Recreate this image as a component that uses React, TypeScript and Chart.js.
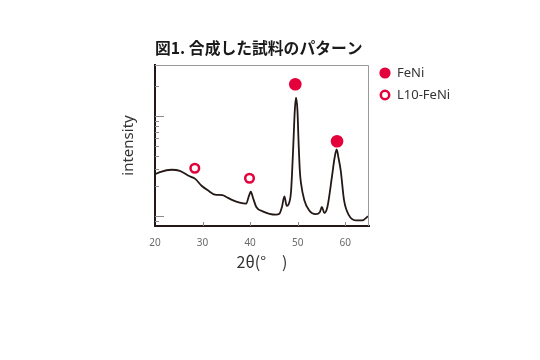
import React, { useEffect, useRef } from "react";
import { Chart, registerables } from "chart.js";

Chart.register(...registerables);

// XRD pattern (2θ in degrees, intensity on log scale)
const thetaValues = [
  20.0, 21.05, 23.5, 25.2, 27.3, 28.4, 29.8, 31.1, 32.6, 34.2, 35.0, 36.3, 37.8, 39.2,
  39.65, 40.15, 40.55, 41.3, 42.65, 44.05, 45.45, 46.15, 46.7, 47.2, 47.7, 48.1, 48.6,
  48.85, 49.1, 49.4, 49.65, 49.95, 50.2, 50.45, 50.7, 51.4, 52.4, 53.8, 54.65, 55.1,
  55.6, 56.25, 57.2, 57.75, 58.2, 58.6, 59.05, 59.75, 60.8, 62.2, 63.6, 64.8,
];
const intensityValues = [
  2.63, 2.77, 2.92, 2.85, 2.51, 2.38, 2.02, 1.82, 1.65, 1.63, 1.56, 1.45, 1.37, 1.34,
  1.54, 1.76, 1.56, 1.24, 1.12, 1.06, 1.04, 1.06, 1.24, 1.58, 1.27, 1.32, 1.75,
  2.88, 5.37, 11.5, 15.3, 11.5, 5.37, 2.88, 2.14, 1.45, 1.15, 1.05, 1.10, 1.24,
  1.08, 1.24, 2.47, 3.8, 4.65, 3.8, 2.88, 1.45, 1.02, 0.91, 0.91, 1.0,
];

const feNiTheta = [49.5, 58.28];
const feNiIntensity = [20.9, 5.62];
const l10Theta = [28.37, 39.87];
const l10Intensity = [3.02, 2.4];

const xTickValues = [20, 30, 40, 50, 60];
const yTickValues = [0.9, 1, 2, 3, 4, 5, 6, 7, 8, 9, 10, 20];
const yLongTicks = [1, 10];

const titleText = "図1. 合成した試料のパターン";
const xTitle = "2θ(°\u3000)";
const yTitle = "intensity";
const legendLabels = ["FeNi", "L10-FeNi"];

const RED = "#e4003a";
const INK = "#231815";

const decorPlugin = {
  id: "decor",
  afterDatasetsDraw(chart: any) {
    const { ctx, chartArea } = chart;
    const xs = chart.scales.x;
    const ys = chart.scales.y;
    ctx.save();
    // top & right frame
    ctx.strokeStyle = "#9a9a9a";
    ctx.lineWidth = 1;
    ctx.beginPath();
    ctx.moveTo(chartArea.left, chartArea.top + 0.5);
    ctx.lineTo(chartArea.right - 0.5, chartArea.top + 0.5);
    ctx.lineTo(chartArea.right - 0.5, chartArea.bottom);
    ctx.stroke();
    // inward ticks
    ctx.strokeStyle = "#8a8a8a";
    ctx.beginPath();
    yTickValues.forEach((v) => {
      const y = Math.round(ys.getPixelForValue(v)) + 0.5;
      const len = yLongTicks.includes(v) ? 9 : 4;
      ctx.moveTo(chartArea.left, y);
      ctx.lineTo(chartArea.left + len, y);
    });
    xTickValues.forEach((v) => {
      if (v === xs.min) return;
      const x = Math.round(xs.getPixelForValue(v)) + 0.5;
      ctx.moveTo(x, chartArea.bottom);
      ctx.lineTo(x, chartArea.bottom - 4);
    });
    ctx.stroke();
    ctx.restore();
  },
  afterDraw(chart: any) {
    const { ctx, chartArea } = chart;
    ctx.save();
    // title
    ctx.fillStyle = "#1a1a1a";
    ctx.font = "bold 15.8px 'Noto Sans CJK JP'";
    ctx.textAlign = "left";
    ctx.textBaseline = "middle";
    ctx.fillText(titleText, chartArea.left, 48);
    // legend
    const lx = 385;
    const rows = [73, 95];
    ctx.fillStyle = RED;
    ctx.beginPath();
    ctx.arc(lx, rows[0], 5.6, 0, Math.PI * 2);
    ctx.fill();
    ctx.strokeStyle = RED;
    ctx.lineWidth = 2.5;
    ctx.fillStyle = "#fff";
    ctx.beginPath();
    ctx.arc(lx, rows[1], 4.2, 0, Math.PI * 2);
    ctx.fill();
    ctx.stroke();
    ctx.fillStyle = "#333";
    ctx.font = "13px 'Noto Sans'";
    ctx.textBaseline = "middle";
    legendLabels.forEach((t, i) => ctx.fillText(t, 397, rows[i] + 0.5));
    ctx.restore();
  },
};

export default function App() {
  const ref = useRef<HTMLCanvasElement>(null);
  useEffect(() => {
    if (!ref.current) return;
    const lineData = thetaValues.map((x, i) => ({ x, y: intensityValues[i] }));
    const feNiData = feNiTheta.map((x, i) => ({ x, y: feNiIntensity[i] }));
    const l10Data = l10Theta.map((x, i) => ({ x, y: l10Intensity[i] }));
    const chart = new Chart(ref.current, {
      type: "line",
      data: {
        datasets: [
          {
            type: "scatter",
            label: legendLabels[0],
            data: feNiData,
            pointRadius: 6.3,
            pointBackgroundColor: RED,
            pointBorderWidth: 0,
            order: 0,
          } as any,
          {
            type: "scatter",
            label: legendLabels[1],
            data: l10Data,
            pointRadius: 4.3,
            pointBackgroundColor: "#fff",
            pointBorderColor: RED,
            pointBorderWidth: 2.5,
            order: 1,
          } as any,
          {
            type: "line",
            label: "pattern",
            data: lineData,
            borderColor: INK,
            borderWidth: 1.8,
            pointRadius: 0,
            cubicInterpolationMode: "monotone",
            fill: false,
            order: 2,
          } as any,
        ],
      },
      options: {
        responsive: false,
        animation: false,
        layout: { padding: { left: 113, right: 171, top: 65, bottom: 84 } },
        plugins: {
          legend: { display: false },
          tooltip: { enabled: false },
          title: { display: false },
        },
        scales: {
          x: {
            type: "linear",
            min: 20,
            max: 65,
            grid: { display: false },
            border: { display: true, color: INK, width: 2 },
            ticks: {
              stepSize: 10,
              includeBounds: false,
              color: "#6b6b6b",
              padding: 3,
              font: { family: "'Noto Sans'", size: 10 },
            },
            title: {
              display: true,
              text: xTitle,
              color: "#333",
              font: { family: "'Noto Sans CJK JP'", size: 16 },
              padding: { top: 0, bottom: 4 },
            },
            afterFit: (s: any) => {
              s.height = 50;
            },
          },
          y: {
            type: "logarithmic",
            min: 0.8,
            max: 32.5,
            grid: { display: false },
            border: { display: true, color: INK, width: 2 },
            ticks: { display: false },
            title: {
              display: true,
              text: yTitle,
              color: "#333",
              font: { family: "'Noto Sans'", size: 15 },
              padding: { top: 7, bottom: 0 },
            },
            afterFit: (s: any) => {
              s.width = 42;
            },
          },
        },
      } as any,
      plugins: [decorPlugin],
    });
    return () => chart.destroy();
  }, []);
  return (
    <div style={{ position: "absolute", left: 0, top: 0, width: 540, height: 360, background: "#fff" }}>
      <canvas ref={ref} width={540} height={360} />
    </div>
  );
}
